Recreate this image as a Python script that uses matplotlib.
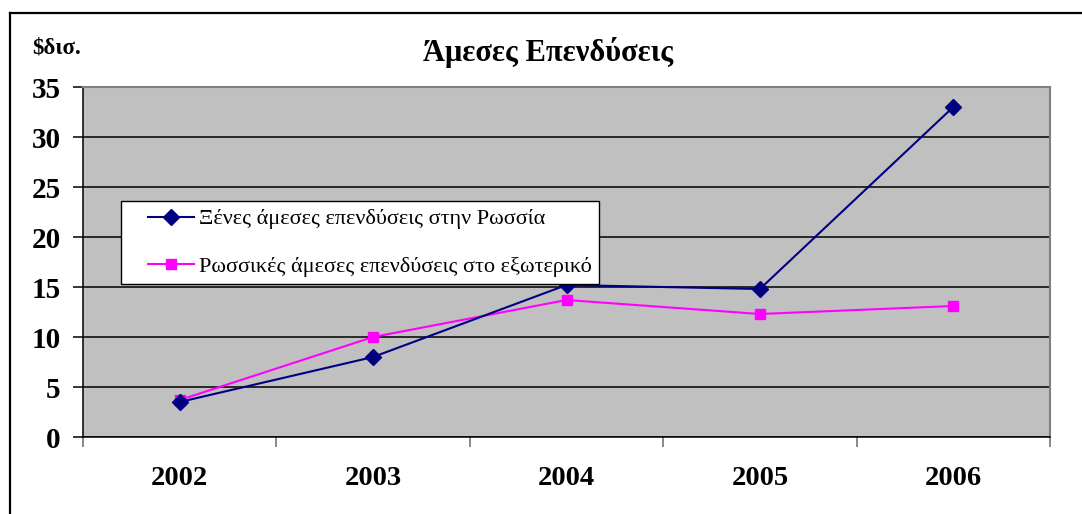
import matplotlib
matplotlib.use('Agg')
import matplotlib.pyplot as plt
from matplotlib.lines import Line2D
from matplotlib.legend_handler import HandlerLine2D

# ── data ──────────────────────────────────────────────────────────────────────
YEARS   = ['2002', '2003', '2004', '2005', '2006']
FDI_IN  = [3.5, 8.0, 15.2, 14.8, 33.0]     # Ξένες άμεσες επενδύσεις στην Ρωσσία
FDI_OUT = [3.7, 10.0, 13.7, 12.3, 13.1]    # Ρωσσικές άμεσες επενδύσεις στο εξωτερικό
Y_TICKS = [0, 5, 10, 15, 20, 25, 30, 35]

LBL_IN  = 'Ξένες άμεσες επενδύσεις στην Ρωσσία'
LBL_OUT = 'Ρωσσικές άμεσες επενδύσεις στο εξωτερικό'

# ── palette ───────────────────────────────────────────────────────────────────
PLOT_BG = '#c0c0c0'
NAVY    = '#000080'
PINK    = '#ff00ff'
FRAME_G = '#808080'

plt.rcParams['font.family'] = ['Liberation Serif', 'DejaVu Serif']

W, H = 1082, 514
fig = plt.figure(figsize=(W / 100, H / 100), dpi=100, facecolor='white')
ax = fig.add_axes([83 / W, 1 - 437 / H, (1050 - 83) / W, (437 - 87) / H])
ax.set_facecolor(PLOT_BG)

x = list(range(len(YEARS)))
l_in, = ax.plot(x, FDI_IN, color=NAVY, lw=1.5, marker='D', ms=8, mfc=NAVY, mec=NAVY,
                label=LBL_IN, zorder=4)
l_out, = ax.plot(x, FDI_OUT, color=PINK, lw=1.5, marker='s', ms=7.5, mfc=PINK, mec=PINK,
                 label=LBL_OUT, zorder=3)

ax.set_xlim(-0.5, len(YEARS) - 0.5)
ax.set_ylim(0, 35)
ax.set_yticks(Y_TICKS)
ax.set_yticklabels([str(v) for v in Y_TICKS], fontsize=21, fontweight='bold')
ax.grid(axis='y', color='black', lw=1.1, zorder=1)
ax.set_axisbelow(True)

ax.set_xticks(x)
ax.set_xticklabels(YEARS, fontsize=20.5, fontweight='bold')
ax.set_xticks([i - 0.5 for i in range(len(YEARS) + 1)], minor=True)
ax.tick_params(axis='x', which='major', length=0, pad=21)
ax.tick_params(axis='x', which='minor', length=7, width=1.3, color=FRAME_G)
ax.tick_params(axis='y', length=7, width=1.1, color='black', pad=9)

for side in ('top', 'right'):
    ax.spines[side].set_color(FRAME_G)
    ax.spines[side].set_linewidth(1.5)
for side in ('left', 'bottom'):
    ax.spines[side].set_color('black')
    ax.spines[side].set_linewidth(1.1)

hmap = {l_in: HandlerLine2D(xpad=0.85), l_out: HandlerLine2D(xpad=0.85)}
leg = ax.legend(handler_map=hmap, loc='upper left',
                bbox_to_anchor=((121 - 83) / (1050 - 83), (437 - 201) / 350),
                fontsize=16, frameon=True, fancybox=False, framealpha=1,
                edgecolor='black', handlelength=2.95, handletextpad=0.2,
                borderpad=0.35, labelspacing=1.2, borderaxespad=0)
leg.get_frame().set_linewidth(1.0)

fig.text(548 / W, 1 - 52 / H, 'Άμεσες Επενδύσεις', ha='center', va='center',
         fontsize=22, fontweight='bold')
fig.text(32 / W, 1 - 48 / H, '$δισ.', ha='left', va='center',
         fontsize=16.5, fontweight='bold')

# outer frame (only left and top edges fall inside the picture)
fig.add_artist(Line2D([9.5 / W, 9.5 / W], [0, 1 - 12.5 / H], color='black', lw=1.6,
                      transform=fig.transFigure))
fig.add_artist(Line2D([9.5 / W, 1], [1 - 12.5 / H, 1 - 12.5 / H], color='black', lw=1.6,
                      transform=fig.transFigure))

fig.savefig('out.png', dpi=100, facecolor='white')
